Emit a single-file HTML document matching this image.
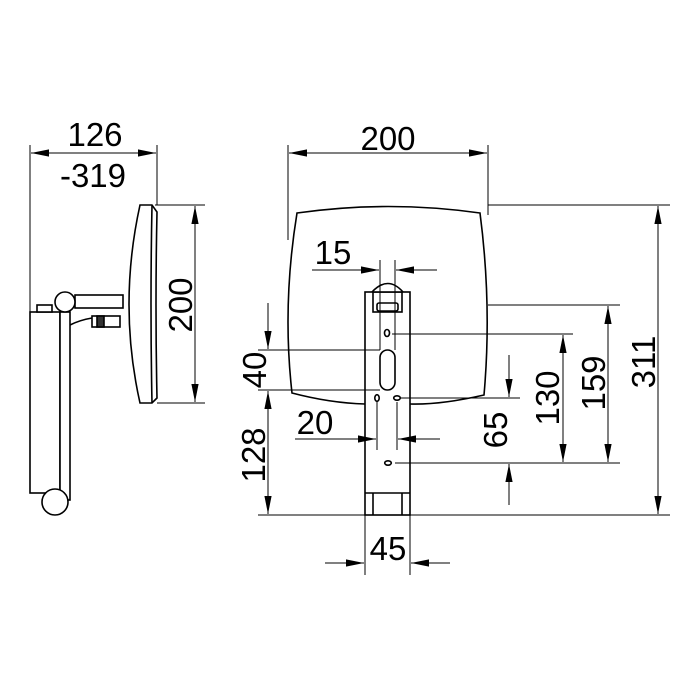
<!DOCTYPE html>
<html><head><style>body{margin:0;background:#fff}svg{display:block}text{font-family:"Liberation Sans",sans-serif;font-size:33px;fill:#000}</style></head><body>
<svg width="700" height="700" viewBox="0 0 700 700" xmlns="http://www.w3.org/2000/svg">
<defs>
<marker id="a" viewBox="0 0 10 4" refX="10" refY="2" markerWidth="18" markerHeight="8" markerUnits="userSpaceOnUse" orient="auto-start-reverse"><path d="M0,0L10,2L0,4z" fill="#000"/></marker>
</defs>
<g stroke="#000" fill="#fff" stroke-width="1.6">
<path d="M297,213 Q388,200 480,213 Q492,305 484,395 Q440,405 410,404 L365,404 Q330,403 292,393 Q282,305 297,213z"/>
<rect x="365" y="292" width="45" height="223"/>
<path d="M372,292 Q388,275 403,292"/>
<rect x="373" y="292" width="29" height="20" fill="none"/>
<rect x="377" y="303" width="21" height="8" rx="2" fill="none"/>
<line x1="365" y1="493" x2="410" y2="493"/>
<line x1="373" y1="493" x2="373" y2="515"/>
<line x1="402" y1="493" x2="402" y2="515"/>
<ellipse cx="387" cy="333" rx="2.5" ry="3.5"/>
<rect x="380" y="350" width="15" height="40" rx="7.5"/>
<ellipse cx="377" cy="398" rx="2.2" ry="3.3"/>
<ellipse cx="397" cy="398" rx="3.3" ry="2.2"/>
<ellipse cx="388" cy="463" rx="3.3" ry="2.2"/>
<path d="M140,205 L152,205 L157,212 Q155,305 157,398 L152,403 L140,403 Q118,305 140,205z"/>
<path d="M152,205 Q150,305 152,403" fill="none"/>
<rect x="75" y="295" width="48" height="13"/>
<rect x="30" y="312" width="30" height="181"/>
<rect x="60" y="312" width="10" height="188"/>
<rect x="37" y="305" width="15" height="7"/>
<path d="M70,325 Q80,320 92,318" fill="none"/>
<rect x="92" y="316" width="28" height="11"/>
<rect x="97" y="316" width="7" height="11" fill="#333"/>
<circle cx="65" cy="302" r="10"/>
<circle cx="55" cy="502" r="13"/>
</g>
<g stroke="#000" fill="none" stroke-width="1">
<line x1="30" y1="145" x2="30" y2="312"/>
<line x1="157" y1="145" x2="157" y2="205"/>
<line x1="31" y1="153" x2="156" y2="153" marker-start="url(#a)" marker-end="url(#a)"/>
<line x1="155" y1="205" x2="205" y2="205"/>
<line x1="157" y1="403" x2="205" y2="403"/>
<line x1="195" y1="206" x2="195" y2="402" marker-start="url(#a)" marker-end="url(#a)"/>
<line x1="288" y1="145" x2="288" y2="240"/>
<line x1="488" y1="145" x2="488" y2="215"/>
<line x1="289" y1="153" x2="487" y2="153" marker-start="url(#a)" marker-end="url(#a)"/>
<line x1="488" y1="205" x2="670" y2="205"/>
<line x1="488" y1="305" x2="620" y2="305"/>
<line x1="392" y1="334" x2="573" y2="334"/>
<line x1="400" y1="398" x2="520" y2="398"/>
<line x1="395" y1="463" x2="620" y2="463"/>
<line x1="258" y1="515" x2="670" y2="515"/>
<line x1="658" y1="206" x2="658" y2="514" marker-start="url(#a)" marker-end="url(#a)"/>
<line x1="608" y1="306" x2="608" y2="462" marker-start="url(#a)" marker-end="url(#a)"/>
<line x1="563" y1="335" x2="563" y2="462" marker-start="url(#a)" marker-end="url(#a)"/>
<line x1="509" y1="355" x2="509" y2="397" marker-end="url(#a)"/>
<line x1="509" y1="505" x2="509" y2="464" marker-end="url(#a)"/>
<line x1="258" y1="350" x2="380" y2="350"/>
<line x1="258" y1="390" x2="380" y2="390"/>
<line x1="268" y1="303" x2="268" y2="349" marker-end="url(#a)"/>
<line x1="268" y1="391" x2="268" y2="514" marker-start="url(#a)" marker-end="url(#a)"/>
<line x1="380" y1="260" x2="380" y2="350"/>
<line x1="395" y1="260" x2="395" y2="350"/>
<line x1="312" y1="270" x2="379" y2="270" marker-end="url(#a)"/>
<line x1="437" y1="270" x2="396" y2="270" marker-end="url(#a)"/>
<line x1="377" y1="402" x2="377" y2="450"/>
<line x1="397" y1="402" x2="397" y2="450"/>
<line x1="295" y1="439" x2="376" y2="439" marker-end="url(#a)"/>
<line x1="440" y1="439" x2="398" y2="439" marker-end="url(#a)"/>
<line x1="365" y1="515" x2="365" y2="575"/>
<line x1="410" y1="515" x2="410" y2="575"/>
<line x1="325" y1="563" x2="364" y2="563" marker-end="url(#a)"/>
<line x1="450" y1="563" x2="411" y2="563" marker-end="url(#a)"/>
</g>
<text x="95" y="146" text-anchor="middle">126</text>
<text x="93" y="187" text-anchor="middle">-319</text>
<text transform="translate(192,305) rotate(-90)" text-anchor="middle">200</text>
<text x="388" y="150" text-anchor="middle">200</text>
<text x="333" y="264" text-anchor="middle">15</text>
<text x="315" y="434" text-anchor="middle">20</text>
<text x="388" y="560" text-anchor="middle">45</text>
<text transform="translate(266,370) rotate(-90)" text-anchor="middle">40</text>
<text transform="translate(265,455) rotate(-90)" text-anchor="middle">128</text>
<text transform="translate(507,430) rotate(-90)" text-anchor="middle">65</text>
<text transform="translate(559,398) rotate(-90)" text-anchor="middle">130</text>
<text transform="translate(605,383) rotate(-90)" text-anchor="middle">159</text>
<text transform="translate(655,362) rotate(-90)" text-anchor="middle">311</text>
</svg>
</body></html>
